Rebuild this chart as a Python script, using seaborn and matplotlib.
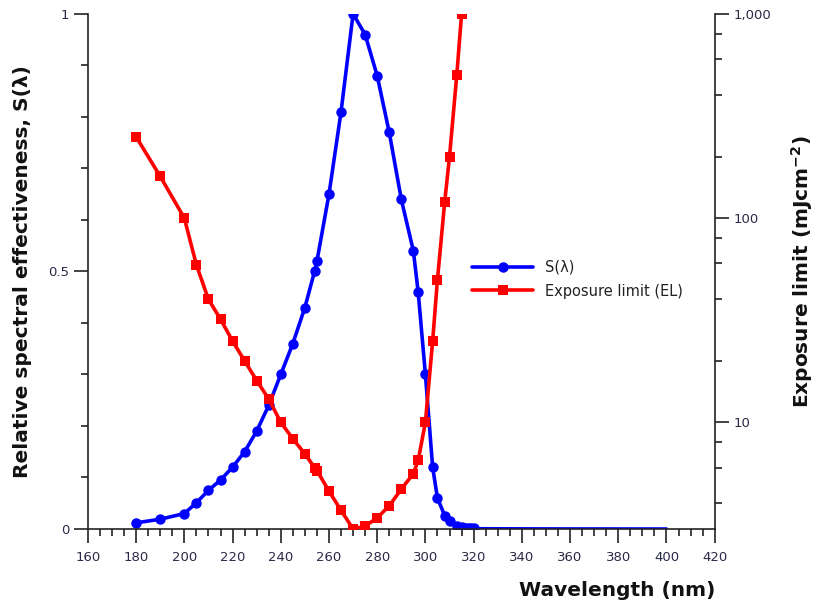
import matplotlib
matplotlib.use("Agg")
import matplotlib.pyplot as plt
import seaborn as sns
import numpy as np
import pandas as pd
from matplotlib.ticker import MultipleLocator, FixedLocator, FuncFormatter, NullFormatter

# UV hazard weighting: wavelength (nm), relative spectral effectiveness and exposure limit (mJ/cm^2)
wavelength = [180, 190, 200, 205, 210, 215, 220, 225, 230, 235, 240, 245, 250, 254, 255,
              260, 265, 270, 275, 280, 285, 290, 295, 297, 300, 303, 305, 308, 310, 313,
              315, 316, 317, 318, 319, 320, 322, 323, 325, 328, 330, 333, 335, 340, 345,
              350, 355, 360, 365, 370, 375, 380, 385, 390, 395, 400]
s_lambda = [0.012, 0.019, 0.030, 0.051, 0.075, 0.095, 0.120, 0.150, 0.190, 0.240, 0.300,
            0.360, 0.430, 0.500, 0.520, 0.650, 0.810, 1.000, 0.960, 0.880, 0.770, 0.640,
            0.540, 0.460, 0.300, 0.120, 0.060, 0.026, 0.015, 0.006, 0.003, 0.0024, 0.0020,
            0.0016, 0.0012, 0.0010, 0.00067, 0.00054, 0.00050, 0.00044, 0.00041, 0.00037,
            0.00034, 0.00028, 0.00024, 0.00020, 0.00016, 0.00013, 0.00011, 0.000093,
            0.000077, 0.000064, 0.000053, 0.000044, 0.000036, 0.000030]
exposure_limit = [250, 160, 100, 59, 40, 32, 25, 20, 16, 13, 10, 8.3, 7.0, 6.0, 5.8, 4.6,
                  3.7, 3.0, 3.1, 3.4, 3.9, 4.7, 5.6, 6.5, 10, 25, 50, 120, 200, 500, 1000,
                  1300, 1500, 1900, 2500, 2900, 4500, 5600, 6000, 6800, 7300, 8100, 8800,
                  11000, 13000, 15000, 19000, 23000, 27000, 32000, 39000, 47000, 57000,
                  68000, 83000, 100000]

df = pd.DataFrame({"wavelength": wavelength, "S": s_lambda, "EL": exposure_limit})

sns.set_theme(style="white")
plt.rcParams["font.family"] = ["DejaVu Sans"]

fig = plt.figure(figsize=(8.14, 6.07), dpi=100)
ax = fig.add_axes([0.108, 0.1285, 0.770, 0.8485])
ax2 = ax.twinx()

tick_color = "#2a2a48"

# markers only on the tabulated UV-C/UV-B points
mark_idx = [i for i, w in enumerate(wavelength) if w <= 320]

sns.lineplot(data=df, x="wavelength", y="S", ax=ax, color="#0000ff", linewidth=2.6,
             marker="o", markersize=7.5, markeredgewidth=0, markevery=mark_idx,
             label="S(λ)", legend=False)
sns.lineplot(data=df, x="wavelength", y="EL", ax=ax2, color="#ff0000", linewidth=2.6,
             marker="s", markersize=7.5, markeredgewidth=0, markevery=mark_idx,
             label="Exposure limit (EL)", legend=False)

ax.set_xlim(160, 420)
ax.set_ylim(0, 1)
ax2.set_yscale("log")
ax2.set_ylim(3, 1000)

# left axis ticks
ax.xaxis.set_major_locator(MultipleLocator(20))
ax.xaxis.set_minor_locator(MultipleLocator(5))
ax.yaxis.set_major_locator(FixedLocator([0, 0.5, 1]))
ax.yaxis.set_minor_locator(MultipleLocator(0.1))
ax.yaxis.set_major_formatter(FuncFormatter(lambda v, p: "0" if v == 0 else ("1" if v == 1 else f"{v:g}")))

# right axis ticks
ax2.yaxis.set_major_locator(FixedLocator([10, 100, 1000]))
ax2.yaxis.set_minor_locator(FixedLocator([4, 6, 8, 20, 40, 60, 80, 200, 400, 600, 800]))
ax2.yaxis.set_major_formatter(FuncFormatter(lambda v, p: f"{int(v):,}"))
ax2.yaxis.set_minor_formatter(NullFormatter())

for a in (ax, ax2):
    a.tick_params(which="major", length=10, width=1.2, color="#222222",
                  labelsize=9.5, labelcolor=tick_color, direction="out")
    a.tick_params(which="minor", length=5, width=1.2, color="#222222", direction="out")
    for sp in a.spines.values():
        sp.set_visible(False)
    a.grid(False)

ax.tick_params(axis="x", which="major", pad=6)
ax.tick_params(axis="y", left=True, which="both")
ax.tick_params(axis="x", bottom=True, which="both")
ax2.tick_params(axis="y", right=True, which="both")
ax.spines["left"].set_visible(True)
ax.spines["bottom"].set_visible(True)
ax2.spines["right"].set_visible(True)
for sp in (ax.spines["left"], ax.spines["bottom"], ax2.spines["right"]):
    sp.set_color("#222222")
    sp.set_linewidth(1.2)

label_font = dict(fontsize=14.5, fontweight="bold", color="#111111")
ax.set_xlabel("Wavelength (nm)", **label_font)
ax.xaxis.set_label_coords(0.845, -0.1)
ax.set_ylabel("Relative spectral effectiveness, S(λ)", **label_font)
ax.yaxis.set_label_coords(-0.09, 0.5)
ax2.set_ylabel("Exposure limit (mJcm$^{\\mathbf{-2}}$)", **label_font, rotation=90)
ax2.yaxis.set_label_coords(1.118, 0.5)

# combined legend
h1, l1 = ax.get_legend_handles_labels()
h2, l2 = ax2.get_legend_handles_labels()
leg = ax2.legend(h1 + h2, l1 + l2, loc="center left", bbox_to_anchor=(0.592, 0.485),
                 frameon=False, fontsize=10.5, handlelength=4.2, handletextpad=0.8,
                 labelspacing=0.6)
for t in leg.get_texts():
    t.set_color("#222222")

fig.savefig("out.png", dpi=100)
